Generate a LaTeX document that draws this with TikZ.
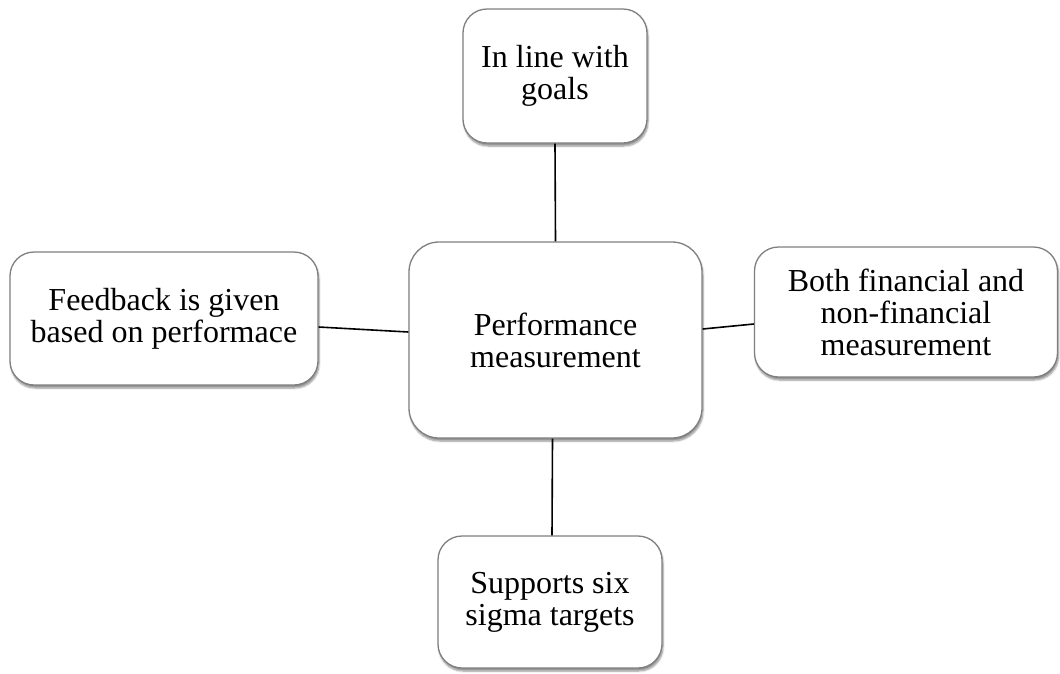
\documentclass[tikz,border=0pt]{standalone}
\usepackage{fontspec}
\setmainfont{Liberation Serif}
\usetikzlibrary{shadows.blur}
\definecolor{boxline}{HTML}{7F7F7F}
\tikzset{
  card/.style={draw=boxline, line width=1.3pt, fill=white, rounded corners=24pt,
    align=center, inner sep=0pt,
    blur shadow={shadow xshift=1pt, shadow yshift=-3pt, shadow blur steps=6,
      shadow blur extra rounding=2pt, shadow opacity=45},
    font=\fontsize{32}{32}\selectfont},
  link/.style={draw=black, line width=1.6pt}
}
\begin{document}
\begin{tikzpicture}[x=1pt, y=-1pt]
  \useasboundingbox (0,0) rectangle (1060,673);

  % central topic
  \node[card, rounded corners=30pt, minimum width=293pt, minimum height=196pt]
    (hub) at (555.5,340) {Performance\\measurement};

  % surrounding aspects
  \node[card, minimum width=184pt, minimum height=134pt]
    (goals) at (555,76) {In line with\\goals};
  \node[card, minimum width=308pt, minimum height=133pt]
    (feedback) at (164,318.5) {Feedback is given\\based on performace};
  \node[card, minimum width=303pt, minimum height=130pt]
    (measure) at (906,312) {Both financial and\\non-financial\\measurement};
  \node[card, minimum width=224pt, minimum height=132pt]
    (sigma) at (550,602) {Supports six\\sigma targets};

  % connectors
  \draw[link] (goals.south) -- (hub.north);
  \draw[link] ([xshift=-3pt]hub.south) -- ([xshift=2pt]sigma.north);
  \draw[link] ([yshift=-8.5pt]feedback.east) -- ([yshift=8pt]hub.west);
  \draw[link] ([yshift=11pt]hub.east) -- ([yshift=-12pt]measure.west);
\end{tikzpicture}
\end{document}
